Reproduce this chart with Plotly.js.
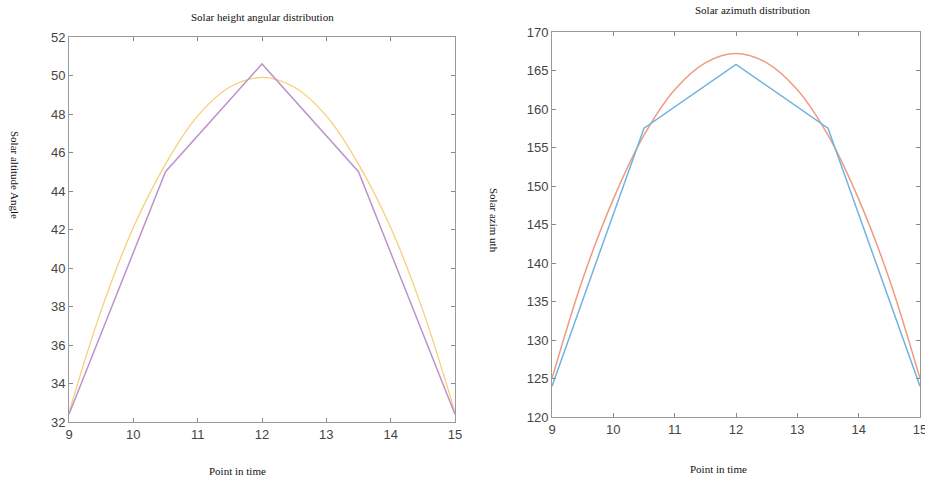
<!DOCTYPE html>
<html>
<head>
<meta charset="utf-8">
<script src="https://cdn.plot.ly/plotly-3.0.1.min.js"></script>
<style>html,body{margin:0;padding:0;background:#fff;} #chart{width:925px;height:479px;}</style>
</head>
<body>
<div id="chart"></div>
<script>
// Left panel: solar altitude
var altPointsX = [9, 10.5, 12, 13.5, 15];
var altPointsY = [32.4, 45.0, 50.6, 45.0, 32.4];
var altCurveX = [9, 9.5, 10, 10.5, 11, 11.5, 12, 12.5, 13, 13.5, 14, 14.5, 15];
var altCurveY = [32.5, 37.8, 42.1, 45.4, 47.9, 49.4, 49.9, 49.4, 47.9, 45.4, 42.1, 37.8, 32.5];

// Right panel: solar azimuth
var aziPointsX = [9, 10.5, 12, 13.5, 15];
var aziPointsY = [124.0, 157.5, 165.8, 157.5, 124.0];
var aziCurveX = [9, 9.5, 10, 10.5, 11, 11.5, 12, 12.5, 13, 13.5, 14, 14.5, 15];
var aziCurveY = [125.0, 137.9, 148.3, 156.6, 162.5, 166.0, 167.2, 166.0, 162.5, 156.6, 148.3, 137.9, 125.0];

var xTicks = [9, 10, 11, 12, 13, 14, 15];
var altTicks = [32, 34, 36, 38, 40, 42, 44, 46, 48, 50, 52];
var aziTicks = [120, 125, 130, 135, 140, 145, 150, 155, 160, 165, 170];

var W = 925, H = 479;
function px(x){return x / W;}
function py(y){return 1 - y / H;}

var traces = [
  {x: altCurveX, y: altCurveY, xaxis: 'x', yaxis: 'y', mode: 'lines',
   line: {color: '#f7cf7a', width: 1.3, shape: 'spline', smoothing: 1}, showlegend: false},
  {x: altPointsX, y: altPointsY, xaxis: 'x', yaxis: 'y', mode: 'lines',
   line: {color: '#bd93cc', width: 1.5}, showlegend: false},
  {x: aziCurveX, y: aziCurveY, xaxis: 'x2', yaxis: 'y2', mode: 'lines',
   line: {color: '#ee9c80', width: 1.5, shape: 'spline', smoothing: 1}, showlegend: false},
  {x: aziPointsX, y: aziPointsY, xaxis: 'x2', yaxis: 'y2', mode: 'lines',
   line: {color: '#72b2e0', width: 1.5}, showlegend: false}
];

var axisCommon = {
  showgrid: false, zeroline: false, showline: true, mirror: 'ticks',
  linecolor: '#9a9a9a', linewidth: 1, ticks: 'inside', ticklen: 4,
  tickcolor: '#8a8a8a', tickwidth: 1, ticklabeloverflow: 'allow',
  tickfont: {family: 'Liberation Sans, Arial, sans-serif', size: 13, color: '#454545'}
};
function ax(extra){ return Object.assign({}, axisCommon, extra); }

var serif = {family: 'Liberation Serif, Times New Roman, serif', size: 11, color: '#111'};

var layout = {
  width: W, height: H,
  margin: {l: 0, r: 0, t: 0, b: 0},
  paper_bgcolor: '#fff', plot_bgcolor: '#fff',
  showlegend: false,
  xaxis: ax({domain: [px(69), px(455)], range: [9, 15], tickvals: xTicks, anchor: 'y'}),
  yaxis: ax({domain: [py(422), py(37)], range: [32, 52], tickvals: altTicks, anchor: 'x'}),
  xaxis2: ax({domain: [px(552), px(920)], range: [9, 15], tickvals: xTicks, anchor: 'y2'}),
  yaxis2: ax({domain: [py(417), py(32)], range: [120, 170], tickvals: aziTicks, anchor: 'x2'}),
  annotations: [
    {text: 'Solar height angular distribution', xref: 'paper', yref: 'paper', x: px(262), y: py(17),
     xanchor: 'center', yanchor: 'middle', showarrow: false, font: serif},
    {text: 'Solar azimuth distribution', xref: 'paper', yref: 'paper', x: px(752), y: py(10),
     xanchor: 'center', yanchor: 'middle', showarrow: false, font: serif},
    {text: 'Point in time', xref: 'paper', yref: 'paper', x: px(238), y: py(471),
     xanchor: 'center', yanchor: 'middle', showarrow: false, font: serif},
    {text: 'Point in time', xref: 'paper', yref: 'paper', x: px(718), y: py(469),
     xanchor: 'center', yanchor: 'middle', showarrow: false, font: serif},
    {text: 'Solar altitude Angle', xref: 'paper', yref: 'paper', x: px(15), y: py(175),
     xanchor: 'center', yanchor: 'middle', showarrow: false, textangle: 90, font: serif},
    {text: 'Solar azim uth', xref: 'paper', yref: 'paper', x: px(494), y: py(220),
     xanchor: 'center', yanchor: 'middle', showarrow: false, textangle: 90, font: serif}
  ]
};

Plotly.newPlot('chart', traces, layout, {displayModeBar: false, staticPlot: true});
</script>
</body>
</html>
